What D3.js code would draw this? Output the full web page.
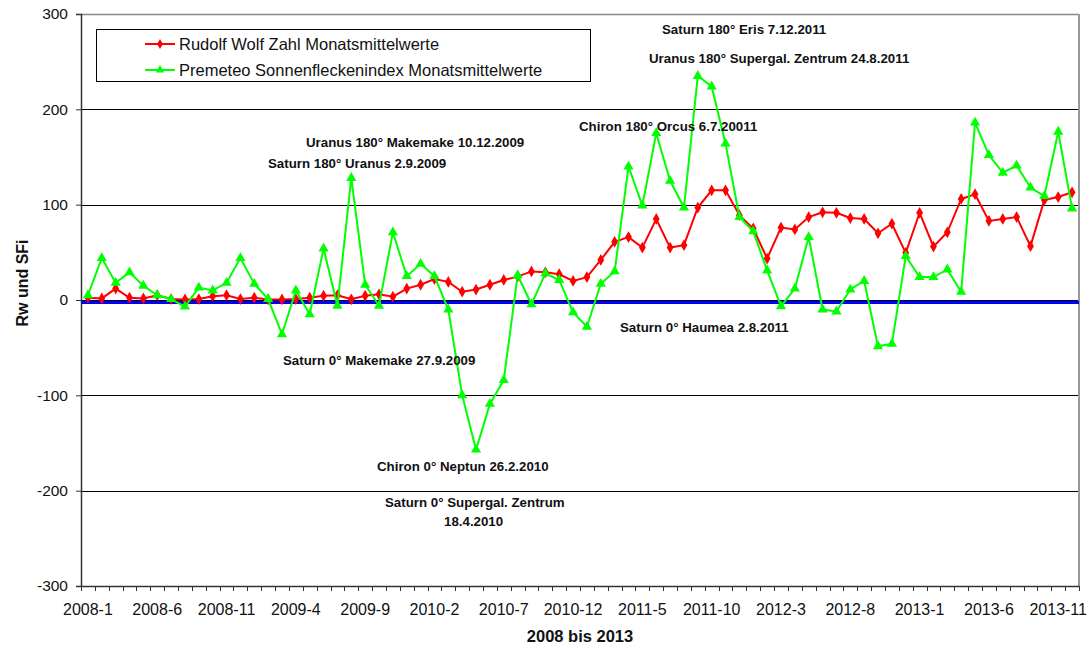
<!DOCTYPE html>
<html>
<head>
<meta charset="utf-8">
<script src="https://cdn.jsdelivr.net/npm/d3@7"></script>
<style>
  body { margin: 0; background: #fff; }
  svg text { font-family: "Liberation Sans", Arial, sans-serif; }
  .note { font-weight: bold; font-size: 13.3px; fill: #111; }
</style>
</head>
<body>
<svg id="chart" width="1091" height="649"></svg>
<script>
// months 2008-1 .. 2013-12
var months = [];
for (var yr = 2008; yr <= 2013; yr++) {
  for (var m = 1; m <= 12; m++) months.push(yr + "-" + m);
}

// Rudolf Wolf Zahl Monatsmittelwerte
var wolf = [2.4, 1.7, 12, 2.4, 1.7, 5, 1, 0.6, 1, 4, 5, 1,
            2.4, 0.6, 0.6, 1, 2.4, 4.5, 5, 0.7, 4.5, 6, 3.5, 12,
            16, 22, 19, 8.7, 11, 16, 21, 24.5, 30, 29, 27, 20,
            24, 42, 61, 66, 55, 85, 55, 57.5, 97, 115, 115, 89,
            75, 43.5, 76, 74, 87, 92, 91.5, 86, 85, 70, 80, 49.5,
            91.5, 56, 71, 106, 111, 83, 85, 87, 56.5, 105, 108, 113];

// Premeteo Sonnenfleckenindex Monatsmittelwerte
var premeteo = [5, 44, 18, 29, 15, 5, 1, -7, 13, 10, 18, 44,
                17, 1, -36, 10, -15, 54, -6, 128, 16, -6, 71, 25,
                38, 25, -10, -100, -157, -109, -84, 26, -4.5, 28, 21, -13,
                -28, 17, 30, 140, 99, 175, 125, 97, 235, 224, 164, 87,
                72, 31, -6.5, 12, 66, -10, -12, 11, 20, -48.5, -46, 46,
                24, 24, 32, 8.6, 186, 152, 133.5, 141, 118, 109, 176.5, 96];

var baseline = -2.5;   // blue reference line
var yTicks = [-300, -200, -100, 0, 100, 200, 300];
var seriesNames = ["Rudolf Wolf Zahl Monatsmittelwerte", "Premeteo Sonnenfleckenindex Monatsmittelwerte"];

// annotation texts with their placement in the picture
var notes = [
  { text: "Saturn 180° Eris 7.12.2011", x: 662, y: 29 },
  { text: "Uranus 180° Supergal. Zentrum 24.8.2011", x: 649, y: 58 },
  { text: "Chiron 180° Orcus 6.7.20011", x: 579, y: 126 },
  { text: "Uranus 180° Makemake 10.12.2009", x: 306, y: 142 },
  { text: "Saturn 180° Uranus 2.9.2009", x: 268, y: 163 },
  { text: "Saturn 0° Haumea 2.8.2011", x: 620, y: 327 },
  { text: "Saturn 0° Makemake 27.9.2009", x: 283, y: 360 },
  { text: "Chiron 0° Neptun 26.2.2010", x: 377, y: 466 },
  { text: "Saturn 0° Supergal. Zentrum", x: 385, y: 502 },
  { text: "18.4.2010", x: 444, y: 521 }
];

var svg = d3.select("#chart");
var plotLeft = 81, plotRight = 1079, plotTop = 14, plotBottom = 586;

var x = d3.scaleBand().domain(months).range([plotLeft, plotRight]).padding(0);
var yScale = d3.scaleLinear().domain([-300, 300]).range([plotBottom, plotTop]);
function cx(i) { return x(months[i]) + x.bandwidth() / 2; }

// gridlines
svg.append("g").selectAll("line")
  .data(yTicks.filter(function (t) { return t > -300 && t < 300; }))
  .enter().append("line")
  .attr("x1", plotLeft).attr("x2", plotRight)
  .attr("y1", function (d) { return Math.round(yScale(d)) + 0.5; })
  .attr("y2", function (d) { return Math.round(yScale(d)) + 0.5; })
  .attr("stroke", "#000").attr("stroke-width", 1);

// frame top / right
svg.append("line").attr("x1", plotLeft).attr("x2", plotRight).attr("y1", plotTop + 0.5).attr("y2", plotTop + 0.5)
  .attr("stroke", "#888").attr("stroke-width", 1.5);
svg.append("line").attr("x1", plotRight).attr("x2", plotRight).attr("y1", plotTop).attr("y2", plotBottom)
  .attr("stroke", "#999").attr("stroke-width", 2);

// y axis (plain hyphen for negatives, like the original)
var yAxis = d3.axisLeft(yScale).tickValues(yTicks).tickSize(5).tickPadding(8)
  .tickFormat(function (d) { return String(d); });
var gy = svg.append("g").attr("transform", "translate(" + plotLeft + ",0)").call(yAxis);
gy.select(".domain").attr("stroke", "#333").attr("stroke-width", 1.5);
gy.selectAll(".tick line").attr("stroke", "#333");
gy.selectAll("text").attr("font-size", "15.5px").attr("fill", "#111")
  .style("font-family", "'Liberation Sans', Arial, sans-serif");

// x axis: ticks at category boundaries, labels every 5th month
var gx = svg.append("g").attr("transform", "translate(0," + plotBottom + ")");
gx.append("line").attr("x1", plotLeft).attr("x2", plotRight).attr("y1", 0.5).attr("y2", 0.5)
  .attr("stroke", "#333").attr("stroke-width", 1.5);
gx.selectAll("line.tk").data(d3.range(months.length + 1)).enter().append("line")
  .attr("class", "tk")
  .attr("x1", function (i) { return Math.round(plotLeft + i * x.bandwidth()) + 0.5; })
  .attr("x2", function (i) { return Math.round(plotLeft + i * x.bandwidth()) + 0.5; })
  .attr("y1", 0).attr("y2", 5).attr("stroke", "#333");
gx.selectAll("text").data(months.filter(function (d, i) { return i % 5 === 0; }))
  .enter().append("text")
  .attr("x", function (d) { return x(d) + x.bandwidth() / 2; })
  .attr("y", 29)
  .attr("text-anchor", "middle")
  .attr("font-size", "16px").attr("fill", "#111")
  .text(function (d) { return d; });

// axis titles
svg.append("text").attr("x", 580).attr("y", 642).attr("text-anchor", "middle")
  .attr("font-size", "16.5px").attr("font-weight", "bold").attr("fill", "#111")
  .text("2008 bis 2013");
svg.append("text").attr("transform", "translate(28,283) rotate(-90)").attr("text-anchor", "middle")
  .attr("font-size", "16px").attr("font-weight", "bold").attr("fill", "#111")
  .text("Rw und SFi");

// blue baseline
svg.append("line").attr("x1", plotLeft).attr("x2", plotRight)
  .attr("y1", yScale(baseline)).attr("y2", yScale(baseline))
  .attr("stroke", "#0000ff").attr("stroke-width", 3);

var line = d3.line().x(function (d, i) { return cx(i); }).y(function (d) { return yScale(d); });

function drawSeries(data, color, symbol, size) {
  svg.append("path").datum(data).attr("d", line)
    .attr("fill", "none").attr("stroke", color).attr("stroke-width", 2);
  svg.append("g").selectAll("path").data(data).enter().append("path")
    .attr("d", d3.symbol().type(symbol).size(size))
    .attr("transform", function (d, i) { return "translate(" + cx(i) + "," + yScale(d) + ")"; })
    .attr("fill", color);
}
drawSeries(wolf, "#ff0000", d3.symbolDiamond, 40);
drawSeries(premeteo, "#00ff00", d3.symbolTriangle, 45);

// annotations
svg.append("g").selectAll("text").data(notes).enter().append("text")
  .attr("class", "note")
  .attr("x", function (d) { return d.x; })
  .attr("y", function (d) { return d.y; })
  .attr("dy", "0.35em")
  .text(function (d) { return d.text; });

// legend
var lg = svg.append("g");
lg.append("rect").attr("x", 96.5).attr("y", 29.5).attr("width", 494).attr("height", 52)
  .attr("fill", "#fff").attr("stroke", "#000").attr("stroke-width", 1);
var legendItems = [
  { name: seriesNames[0], color: "#ff0000", symbol: d3.symbolDiamond, size: 30 },
  { name: seriesNames[1], color: "#00ff00", symbol: d3.symbolTriangle, size: 32 }
];
legendItems.forEach(function (d, i) {
  var ly = 44 + i * 26;
  lg.append("line").attr("x1", 145).attr("x2", 175).attr("y1", ly).attr("y2", ly)
    .attr("stroke", d.color).attr("stroke-width", 2);
  lg.append("path").attr("d", d3.symbol().type(d.symbol).size(d.size))
    .attr("transform", "translate(160," + ly + ")").attr("fill", d.color);
  lg.append("text").attr("x", 179).attr("y", ly).attr("dy", "0.35em")
    .attr("font-size", "16.5px").attr("fill", "#111").text(d.name);
});
</script>
</body>
</html>
